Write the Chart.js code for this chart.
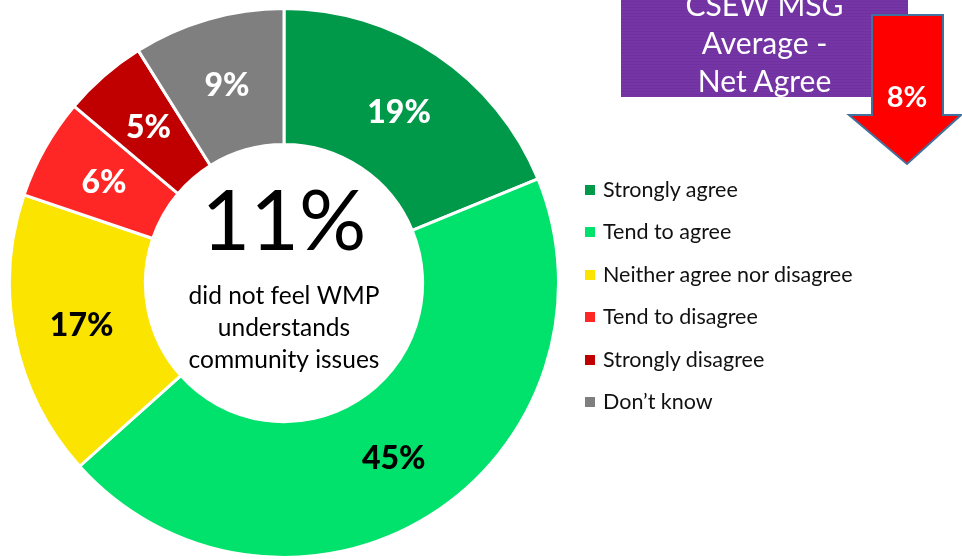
<!DOCTYPE html>
<html>
<head>
<meta charset="utf-8">
<script src="https://cdn.jsdelivr.net/npm/chart.js@4"></script>
<style>
  body { margin: 0; background: #fff; }
  #wrap { position: relative; width: 962px; height: 559px; overflow: hidden; font-family: "Lato", "Open Sans", sans-serif; }
  #chart { position: absolute; left: 0; top: 0; }
  #legend { position: absolute; left: 585px; top: 176px; }
  .item { height: 42.4px; display: flex; align-items: flex-start; font-size: 21.5px; color: #111; }
  .box { width: 10px; height: 10px; margin: 9px 8px 0 0; }
  #csew { position: absolute; left: 621px; top: 0; width: 287px; height: 97px;
    background: repeating-linear-gradient(0deg, #7535a5 0px, #7535a5 2px, #6c2e9c 3px);
    color: #fff; font-size: 30px; text-align: center; line-height: 38px; }
  #csew div { position: relative; top: -15px; }
  #arrow { position: absolute; left: 0; top: 0; }
</style>
</head>
<body>
<div id="wrap">
  <canvas id="chart" width="962" height="559"></canvas>
  <div id="legend"></div>
  <div id="csew"><div>CSEW MSG<br>Average -<br>Net Agree</div></div>
  <svg id="arrow" width="962" height="559">
    <polygon points="872,15 943,15 943,115 961,115 907,164 849,115 872,115" fill="#ff0000" stroke="#41719c" stroke-width="2"/>
    <text x="907" y="107" fill="#fff" font-size="29" font-weight="bold" text-anchor="middle" font-family="Lato, Open Sans, sans-serif">8%</text>
  </svg>
</div>
<script>
// data
const labels = ["Strongly agree", "Tend to agree", "Neither agree nor disagree", "Tend to disagree", "Strongly disagree", "Don\u2019t know"];
const values = [19, 45, 17, 6, 5, 9];
const colors = ["#00994a", "#00e26b", "#fbe400", "#ff2626", "#c00000", "#7f7f7f"];
const labelColors = ["#fff", "#000", "#000", "#fff", "#fff", "#fff"];
const centerBig = "11%";
const centerLines = ["did not feel WMP", "understands", "community issues"];

// legend html
const legend = document.getElementById("legend");
labels.forEach((l, i) => {
  const d = document.createElement("div");
  d.className = "item";
  d.innerHTML = `<span class="box" style="background:${colors[i]}"></span><span>${l}</span>`;
  legend.appendChild(d);
});

// percent labels + text in the hole
const doughnutText = {
  id: "doughnutText",
  afterDatasetsDraw(chart) {
    const ctx = chart.ctx;
    const arcs = chart.getDatasetMeta(0).data;
    ctx.save();
    ctx.textAlign = "center";
    ctx.textBaseline = "middle";
    ctx.font = "900 32px Lato, 'Open Sans', sans-serif";
    arcs.forEach((arc, i) => {
      const p = arc.getCenterPoint();
      ctx.fillStyle = labelColors[i];
      ctx.fillText(values[i] + "%", p.x, p.y + 1);
    });
    const cx = arcs[0].x, cy = arcs[0].y;
    ctx.fillStyle = "#000";
    ctx.font = "84px Lato, 'Open Sans', sans-serif";
    ctx.fillText(centerBig, cx, cy - 60);
    ctx.font = "24.5px Lato, 'Open Sans', sans-serif";
    centerLines.forEach((t, i) => ctx.fillText(t, cx, cy + 13 + i * 32));
    ctx.restore();
  }
};

new Chart(document.getElementById("chart"), {
  type: "doughnut",
  data: {
    labels: labels,
    datasets: [{
      data: values,
      backgroundColor: colors,
      borderColor: "#ffffff",
      borderWidth: 3
    }]
  },
  options: {
    responsive: false,
    animation: false,
    cutout: "50.5%",
    layout: { padding: { left: 7, right: 401, top: 7, bottom: 0 } },
    plugins: {
      legend: { display: false },
      tooltip: { enabled: false }
    }
  },
  plugins: [doughnutText]
});
</script>
</body>
</html>
